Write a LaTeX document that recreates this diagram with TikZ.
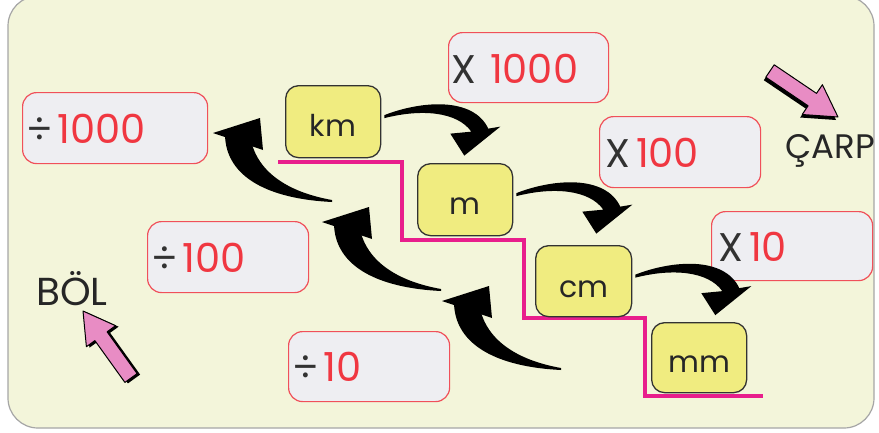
\documentclass[tikz,border=0pt]{standalone}
\usepackage{fontspec}
\setmainfont{Poppins}
\usetikzlibrary{calc}
\definecolor{bg}{RGB}{243,245,218}
\definecolor{boxfill}{RGB}{238,238,242}
\definecolor{redline}{RGB}{240,80,90}
\definecolor{rednum}{RGB}{240,55,65}
\definecolor{ylw}{RGB}{240,236,128}
\definecolor{mag}{RGB}{232,30,140}
\definecolor{pinkar}{RGB}{232,140,196}
\definecolor{txtgray}{RGB}{50,50,50}
\tikzset{
  fwdarrow/.pic={\fill[black] (0,-1.5) .. controls (37,-16) and (89,-20) .. (104,12) -- (116,10) -- (80,39) -- (66,17) -- (87,15) .. controls (73,-5) and (37,-8) .. (0,1.5) -- cycle;},
  backarrow/.pic={\fill[black] (0,0) -- (47,-15) -- (50,17) -- cycle;
    \fill[black] (12,2) .. controls (13,45) and (57,66) .. (119,69) -- (119,67) .. controls (74,59) and (42,38) .. (37,2) -- cycle;}
}
\begin{document}
\begin{tikzpicture}[x=1pt,y=-1pt,
 rbox/.style={draw=redline, line width=1.2pt, fill=boxfill, rounded corners=14pt, inner sep=0pt, anchor=north west},
 ybox/.style={draw=txtgray, line width=1.3pt, fill=ylw, rounded corners=13pt, inner sep=0pt, anchor=north west},
 rtxt/.style={anchor=base west, inner sep=0pt, font=\fontsize{40}{44}\selectfont, text=rednum},
 utxt/.style={anchor=base, inner sep=0pt, font=\fontsize{30}{33}\selectfont, text=black!85},
 stair/.style={draw=mag, line width=3.5pt},
 pinkarrow/.style={fill=pinkar, draw=black, line width=1pt, line join=round},
 word/.style={anchor=base west, inner sep=0pt, font=\fontsize{39}{42}\selectfont, text=black!85}]

\useasboundingbox (0,0) rectangle (879,432);
\fill[white] (0,0) rectangle (879,432);
\draw[fill=bg, draw=gray!70, line width=1.2pt, rounded corners=30pt] (8,-4) rectangle (874,428);

% staircase
\draw[stair] (278,162) -- (402,162) -- (402,240) -- (524,240) -- (524,318) -- (645,318) -- (645,396) -- (763,396);

% red boxes
\node[rbox, minimum width=185pt, minimum height=71pt] (d1000) at (22,92) {};
\node[rbox, minimum width=160pt, minimum height=70pt] (x1000) at (448,32) {};
\node[rbox, minimum width=161pt, minimum height=71pt] (x100) at (599,116) {};
\node[rbox, minimum width=161pt, minimum height=69pt] (x10) at (711,211) {};
\node[rbox, minimum width=161pt, minimum height=71pt] (d100) at (147,221) {};
\node[rbox, minimum width=161pt, minimum height=70pt] (d10) at (288,331) {};

\node[rtxt] (td1000) at ($(d1000.south west)+(4,-21)$) {{\color{txtgray}÷}\hspace{5pt}1000};
\node[rtxt] (tx1000) at ($(x1000.south west)+(3,-20)$) {{\color{txtgray}X}\hspace{14pt}1000};
\node[rtxt] (tx100) at ($(x100.south west)+(6,-21)$) {{\color{txtgray}X}\hspace{6pt}100};
\node[rtxt] (tx10) at ($(x10.south west)+(7,-20)$) {{\color{txtgray}X}\hspace{6pt}10};
\node[rtxt] (td100) at ($(d100.south west)+(4,-21)$) {{\color{txtgray}÷}\hspace{5pt}100};
\node[rtxt] (td10) at ($(d10.south west)+(4,-21)$) {{\color{txtgray}÷}\hspace{5pt}10};

% yellow unit boxes
\node[ybox, minimum width=95pt, minimum height=72pt] (km) at (285,85) {};
\node[ybox, minimum width=95pt, minimum height=72pt] (m) at (417,163) {};
\node[ybox, minimum width=96pt, minimum height=71pt] (cm) at (535,245) {};
\node[ybox, minimum width=95pt, minimum height=70pt] (mm) at (651,322) {};

\node[utxt] (tkm) at ($(km.south)+(0,-22)$) {km};
\node[utxt] (tm) at ($(m.south)+(0,-22)$) {m};
\node[utxt] (tcm) at ($(cm.south)+(0,-20)$) {cm};
\node[utxt] (tmm) at ($(mm.south)+(0,-21)$) {mm};

% forward (multiply) arrows
\coordinate (f1) at ($(km.east)+(3,-5)$);
\coordinate (f2) at ($(m.east)+(3,-5)$);
\coordinate (f3) at ($(cm.east)+(3,-5)$);
\pic at (f1) {fwdarrow};
\pic at (f2) {fwdarrow};
\pic at (f3) {fwdarrow};

% backward (divide) arrows
\coordinate (b1) at (213,133);
\coordinate (b2) at (322,222);
\coordinate (b3) at (442,301);
\pic at (b1) {backarrow};
\pic at (b2) {backarrow};
\pic at (b3) {backarrow};

% pink pointer arrows
\fill[black] ([shift={(-2,3)}]774.2,64.8) -- ([shift={(-2,3)}]816.5,93.4) -- ([shift={(-2,3)}]822.4,84.7) -- ([shift={(-2,3)}]838,117) -- ([shift={(-2,3)}]802.2,114.5) -- ([shift={(-2,3)}]808.1,105.8) -- ([shift={(-2,3)}]765.8,77.2) -- cycle;
\draw[pinkarrow] (774.2,64.8) -- (816.5,93.4) -- (822.4,84.7) -- (838,117) -- (802.2,114.5) -- (808.1,105.8) -- (765.8,77.2) -- cycle;

\fill[black] ([shift={(3,1)}]137.1,373.6) -- ([shift={(3,1)}]107.1,331.8) -- ([shift={(3,1)}]115.6,325.7) -- ([shift={(3,1)}]83,311) -- ([shift={(3,1)}]86.4,346.7) -- ([shift={(3,1)}]94.9,340.6) -- ([shift={(3,1)}]124.9,382.4) -- cycle;
\draw[pinkarrow] (137.1,373.6) -- (107.1,331.8) -- (115.6,325.7) -- (83,311) -- (86.4,346.7) -- (94.9,340.6) -- (124.9,382.4) -- cycle;

\node[word, font=\fontsize{34}{38}\selectfont] (carp) at (785,158) {ÇARP};
\node[word] (bol) at (36,305) {BÖL};
\end{tikzpicture}
\end{document}
